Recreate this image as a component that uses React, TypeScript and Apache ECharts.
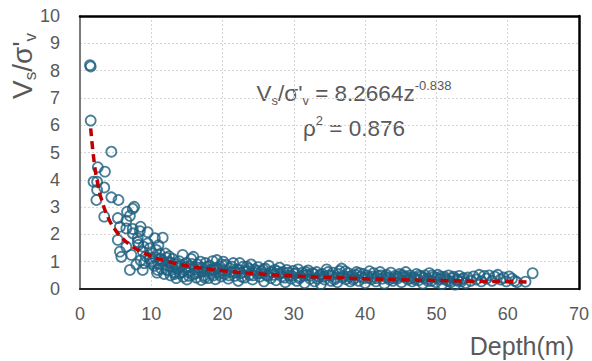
import React, { useEffect, useRef } from "react";
import * as echarts from "echarts";

const shallowSamples: [number, number][] = [
  [1.4, 8.2], [1.5, 8.15], [1.5, 6.17], [4.4, 5.03], [2.5, 4.46], [3.5, 4.3],
  [1.9, 3.93], [2.4, 3.93], [3.4, 3.72], [2.4, 3.63], [4.4, 3.36], [5.4, 3.26],
  [2.3, 3.26], [7.6, 3.01], [7.4, 2.94], [6.6, 2.83], [7.0, 2.68], [3.4, 2.65],
  [5.3, 2.6], [6.5, 2.5], [5.6, 2.28], [6.5, 2.22], [7.4, 2.2], [8.5, 2.28],
  [9.5, 2.08], [7.4, 2.04], [8.4, 2.12], [5.3, 1.8], [8.1, 1.86], [6.5, 1.55],
  [5.6, 1.37], [5.8, 1.18], [7.2, 1.25], [9.5, 1.67], [10.5, 1.86], [11.6, 1.88],
  [9.8, 1.49], [10.7, 1.43], [8.8, 1.37], [7.0, 0.7], [7.9, 0.9], [8.8, 0.7],
  [10.9, 0.7], [8.2, 1.62], [8.9, 1.55], [9.2, 1.2], [8.5, 1.05], [9.8, 1.1],
  [9.0, 0.95], [10.2, 1.3], [10.0, 0.95], [8.1, 1.72], [11.0, 1.6], [11.3, 1.1],
  [12.0, 1.3], [12.5, 1.2],
];

const midSamples: [number, number][] = [
  [10.1, 1.02], [10.4, 0.85], [10.6, 1.15], [10.8, 0.6], [11.0, 0.92], [11.2, 1.28],
  [11.4, 0.75], [11.6, 1.05], [11.8, 0.55], [12.0, 0.88], [12.1, 1.15], [12.3, 0.68],
  [12.5, 0.98], [12.7, 0.5], [12.9, 0.82], [13.0, 1.1], [13.2, 0.62], [13.4, 0.92],
  [13.5, 0.4], [13.7, 0.75], [13.9, 1.02], [14.0, 0.58], [14.2, 0.85], [14.4, 1.25],
  [14.5, 0.45], [14.7, 0.7], [14.9, 0.95], [15.0, 0.35], [15.2, 0.62], [15.4, 0.82],
  [15.6, 1.1], [15.8, 0.52], [15.9, 1.18], [16.1, 0.72], [16.3, 0.42], [16.5, 0.9],
  [16.7, 0.6], [16.9, 1.0], [17.0, 0.33], [17.2, 0.78], [17.4, 0.5], [17.6, 0.95],
  [17.8, 0.66], [18.0, 0.4], [18.2, 0.85], [18.4, 0.56], [18.6, 1.02], [18.8, 0.72],
  [19.0, 0.36], [19.2, 1.06], [19.4, 0.62], [19.6, 0.82], [19.8, 0.46], [20.1, 1.0],
  [20.0, 0.7], [20.3, 0.55], [20.5, 0.88], [20.8, 0.38], [21.0, 0.76], [21.2, 0.62],
  [21.5, 0.95], [21.7, 0.48], [22.0, 0.72], [22.2, 0.3], [22.4, 0.95], [22.6, 0.58],
  [22.9, 0.82], [23.1, 0.42], [23.4, 0.82], [23.5, 0.66], [23.8, 0.52], [24.0, 0.9],
  [24.2, 0.35], [24.5, 0.72], [24.8, 0.58], [25.0, 0.8], [25.2, 0.45], [25.5, 0.65],
  [25.8, 0.28], [26.0, 0.75], [26.2, 0.52], [26.5, 0.85], [26.8, 0.4], [27.0, 0.62],
  [27.3, 0.7], [27.5, 0.32], [27.8, 0.55], [28.0, 0.78], [28.3, 0.46], [28.5, 0.62],
  [28.8, 0.25], [29.0, 0.7], [29.3, 0.5], [29.6, 0.38], [29.9, 0.66],
  [12.2, 0.72], [12.8, 0.95], [13.3, 0.55], [13.8, 0.82], [14.3, 0.62], [14.8, 0.8],
  [15.3, 0.48], [15.7, 0.92], [16.2, 0.58], [16.6, 0.78], [17.1, 0.65], [17.5, 0.42],
  [17.9, 0.82], [18.3, 0.7], [18.7, 0.5], [19.1, 0.78], [19.5, 0.55], [19.9, 0.9],
  [20.4, 0.65], [20.9, 0.5], [21.3, 0.82], [21.8, 0.6], [22.3, 0.7], [22.7, 0.45],
  [23.2, 0.62], [23.7, 0.75], [24.3, 0.5], [24.7, 0.66], [25.3, 0.58], [25.7, 0.72],
  [26.3, 0.48], [26.7, 0.62], [27.2, 0.52], [27.7, 0.65], [28.2, 0.58], [28.7, 0.42],
  [29.2, 0.6], [29.7, 0.48],
];

const deepSamples: [number, number][] = [
  [30.1, 0.55], [30.4, 0.3], [30.6, 0.72], [30.9, 0.45], [31.2, 0.6], [31.5, 0.22],
  [31.8, 0.52], [32.0, 0.68], [32.3, 0.38], [32.6, 0.58], [32.9, 0.28], [33.2, 0.62],
  [33.5, 0.45], [33.8, 0.18], [34.0, 0.55], [34.3, 0.35], [34.6, 0.72], [34.9, 0.5],
  [35.2, 0.3], [35.5, 0.6], [35.8, 0.42], [36.1, 0.25], [36.4, 0.66], [36.7, 0.75],
  [37.0, 0.48], [37.3, 0.36], [37.6, 0.58], [37.9, 0.28], [38.2, 0.5], [38.5, 0.4],
  [38.8, 0.62], [39.1, 0.3], [39.4, 0.45], [39.7, 0.55], [40.0, 0.22], [40.3, 0.5],
  [40.6, 0.65], [40.9, 0.36], [41.2, 0.58], [41.5, 0.28], [41.8, 0.48], [42.1, 0.62],
  [42.4, 0.38], [42.7, 0.2], [43.0, 0.52], [43.3, 0.42], [43.6, 0.6], [43.9, 0.3],
  [44.2, 0.48], [44.5, 0.38], [44.8, 0.55], [45.1, 0.25], [45.4, 0.45], [45.7, 0.62],
  [46.0, 0.35], [46.3, 0.5], [46.6, 0.28], [46.9, 0.42], [47.2, 0.55], [47.5, 0.32],
  [47.8, 0.45], [48.1, 0.2], [48.4, 0.5], [48.7, 0.38], [49.0, 0.58], [49.3, 0.3],
  [49.6, 0.44], [49.9, 0.25], [50.2, 0.52], [50.5, 0.36], [50.8, 0.18], [51.1, 0.45],
  [51.4, 0.32], [51.7, 0.5], [52.0, 0.25], [52.3, 0.4], [52.6, 0.16], [52.9, 0.35],
  [53.2, 0.48], [53.5, 0.28], [53.8, 0.4], [54.1, 0.22], [54.4, 0.42], [54.8, 0.3],
  [55.2, 0.46], [55.6, 0.35], [56.0, 0.52], [56.3, 0.28], [56.7, 0.48], [57.0, 0.38],
  [57.4, 0.5], [57.8, 0.3], [58.2, 0.45], [58.6, 0.52], [59.0, 0.35], [59.4, 0.42],
  [59.8, 0.28], [60.2, 0.46], [60.6, 0.38], [61.0, 0.3], [61.3, 0.25], [62.5, 0.27],
  [63.5, 0.58],
  [30.3, 0.58], [30.8, 0.4], [31.3, 0.5], [31.7, 0.62], [32.2, 0.48], [32.8, 0.55],
  [33.3, 0.38], [33.7, 0.52], [34.2, 0.45], [34.8, 0.62], [35.3, 0.5], [35.7, 0.35],
  [36.3, 0.55], [36.8, 0.42], [37.2, 0.65], [37.8, 0.45], [38.3, 0.35], [38.7, 0.52],
  [39.2, 0.58], [39.8, 0.4], [40.4, 0.42], [41.0, 0.45], [41.6, 0.4], [42.2, 0.5],
  [42.8, 0.45], [43.4, 0.35], [44.0, 0.4], [44.6, 0.45], [45.2, 0.52], [45.8, 0.45],
  [46.4, 0.4], [47.0, 0.35], [47.6, 0.5], [48.2, 0.42], [48.8, 0.3], [49.4, 0.5],
  [50.0, 0.4], [50.6, 0.45], [51.2, 0.38], [51.8, 0.3], [52.4, 0.45], [53.0, 0.3],
  [53.6, 0.36],
];

// Power-law trend line Vs/σ'v = 8.2664 z^-0.838, values read at these depths
const trendDepths = [1.5, 2, 2.5, 3, 4, 5, 6, 7, 8, 10, 12, 15, 20, 25, 30, 35, 40, 45, 50, 55, 60, 63];
const trendValues = [5.885, 4.624, 3.836, 3.293, 2.587, 2.146, 1.842, 1.619, 1.447, 1.2, 1.031, 0.855, 0.671, 0.557, 0.478, 0.42, 0.376, 0.34, 0.312, 0.288, 0.267, 0.257];

const xTicks = { min: 0, max: 70, interval: 10 };
const yTicks = { min: 0, max: 10, interval: 1 };

const FONT = "'Liberation Sans', Arial, sans-serif";
const GRAY = "#595959";

export default function App() {
  const ref = useRef<HTMLDivElement>(null);
  useEffect(() => {
    if (!ref.current) return;
    const chart = echarts.init(ref.current, null, { renderer: "svg" });
    const scatterData = [...shallowSamples, ...midSamples, ...deepSamples];
    const trendData = trendDepths.map((d, i) => [d, trendValues[i]]);
    const frameAxis = {
      type: "value",
      axisLine: { show: true, onZero: false, lineStyle: { color: "#000000", width: 2.5 } },
      axisTick: { show: false },
      axisLabel: { show: false },
      splitLine: { show: false },
    };
    chart.setOption({
      animation: false,
      backgroundColor: "#ffffff",
      grid: {
        left: 80, right: 12, top: 16, bottom: 72,
        show: false,
      },
      xAxis: [
        {
          type: "value", ...xTicks,
          axisLine: { show: true, onZero: false, lineStyle: { color: "#222222", width: 2 } },
          axisTick: { show: false },
          axisLabel: { color: GRAY, fontSize: 18, fontFamily: FONT, margin: 16 },
          splitLine: { show: true, lineStyle: { color: "#d4d4d4", type: [2, 2], width: 1 } },
          z: 1,
        },
        { ...frameAxis, ...xTicks, position: "top", z: 5 },
      ],
      yAxis: [
        {
          type: "value", ...yTicks,
          axisLine: { show: true, onZero: false, lineStyle: { color: "#7a7a7a", width: 2 } },
          axisTick: { show: false },
          axisLabel: { color: GRAY, fontSize: 18, fontFamily: FONT, margin: 20 },
          splitLine: { show: true, lineStyle: { color: "#d4d4d4", type: [2, 2], width: 1 } },
          z: 1,
        },
        { ...frameAxis, ...yTicks, position: "right", z: 5 },
      ],
      series: [
        {
          type: "scatter",
          data: scatterData,
          symbol: "circle",
          symbolSize: 10,
          itemStyle: { color: "rgba(0,0,0,0)", borderColor: "#1D5F80", borderWidth: 1.8 },
          z: 2,
        },
        {
          type: "line",
          data: trendData,
          smooth: true,
          showSymbol: false,
          symbol: "none",
          lineStyle: { color: "#C00000", width: 3.5, type: [8, 5] },
          z: 3,
        },
      ],
      graphic: [
        {
          type: "text",
          x: 22, y: 66, rotation: Math.PI / 2,
          style: {
            text: "{n|V}{sb|s}{n|/σ'}{sb|v}",
            align: "center", verticalAlign: "middle",
            textAlign: "center", textVerticalAlign: "middle",
            fill: GRAY, fontFamily: FONT,
            rich: {
              n: { fontSize: 28, lineHeight: 34, fontFamily: FONT, color: GRAY, verticalAlign: "middle" },
              sb: { fontSize: 17, fontFamily: FONT, color: GRAY, verticalAlign: "bottom" },
            },
          },
        },
        {
          type: "text",
          x: 574, y: 346,
          style: {
            text: "Depth(m)", fill: GRAY, fontSize: 25, fontFamily: FONT,
            align: "right", verticalAlign: "middle",
            textAlign: "right", textVerticalAlign: "middle",
          },
        },
        {
          type: "text",
          x: 354, y: 93,
          style: {
            text: "{n|V}{sb|s}{n|/σ'}{sb|v}{n| = 8.2664z}{sp|-0.838}",
            align: "center", verticalAlign: "middle",
            textAlign: "center", textVerticalAlign: "middle",
            fill: GRAY, fontFamily: FONT,
            rich: {
              n: { fontSize: 22.5, lineHeight: 28, fontFamily: FONT, color: GRAY, verticalAlign: "middle" },
              sb: { fontSize: 13, fontFamily: FONT, color: GRAY, verticalAlign: "bottom" },
              sp: { fontSize: 13, fontFamily: FONT, color: GRAY, verticalAlign: "top" },
            },
          },
        },
        {
          type: "text",
          x: 354, y: 128,
          style: {
            text: "{n|ρ}{sp|2}{n| = 0.876}",
            align: "center", verticalAlign: "middle",
            textAlign: "center", textVerticalAlign: "middle",
            fill: GRAY, fontFamily: FONT,
            rich: {
              n: { fontSize: 22.5, lineHeight: 28, fontFamily: FONT, color: GRAY, verticalAlign: "middle" },
              sp: { fontSize: 13, fontFamily: FONT, color: GRAY, verticalAlign: "top" },
            },
          },
        },
      ],
    });
    return () => chart.dispose();
  }, []);
  return (
    <div
      ref={ref}
      style={{ position: "absolute", left: 0, top: 0, width: 592, height: 361, background: "#fff" }}
    />
  );
}
